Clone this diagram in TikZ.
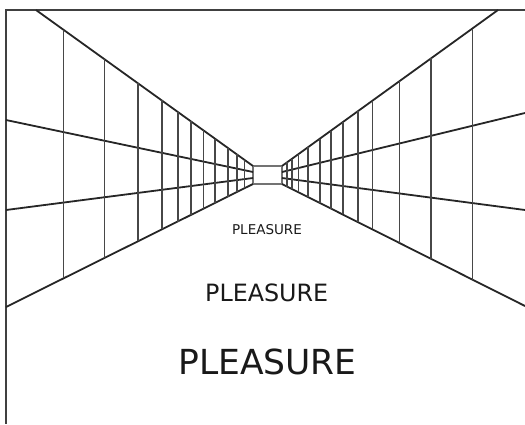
\documentclass[tikz,border=0pt]{standalone}
\usepackage{fontspec}
\setmainfont{DejaVu Sans}
\usetikzlibrary{calc}

\begin{document}
\begin{tikzpicture}[
  x=1pt, y=-1pt,
  frame/.style = {draw=black!75, line width=2pt},
  edge/.style  = {draw=black!85, line width=1.8pt},
  post/.style  = {draw=black!72, line width=1.6pt},
  word/.style  = {inner sep=0pt, text=black!90},
]
\useasboundingbox (0,0) rectangle (525,424);
% outer frame (top and left only)
\draw[frame] (525,10) -- (6,10) -- (6,424);
% far end of the hall
\coordinate (ftl) at (253,166);
\coordinate (ftr) at (282,166);
\coordinate (fbl) at (253,184);
\coordinate (fbr) at (282,184);
\draw[post, draw=black!55, line width=1.1pt] (ftl) rectangle (fbr);
% left wall
\coordinate (ltop) at (36,10);
\coordinate (lbot) at (6,307);
\draw[edge] (ltop) -- (ftl);
\draw[edge] (lbot) -- (fbl);
\coordinate (lmid1) at (6,120);
\coordinate (lmid2) at (6,210);
\draw[edge] (lmid1) -- (253,172);
\draw[edge] (lmid2) -- (253,178);
\foreach \x in {63.3,104.3,137.7,161.7,177.7,190.7,203.3,215,227.7,236.7,244.3} {
  \pgfmathsetmacro\ytop{10+(\x-36)/217*156}
  \pgfmathsetmacro\ybot{307-(\x-6)/247*123}
  \draw[post] (\x,\ytop) -- (\x,\ybot);
}
% right wall
\coordinate (rtop) at (498,10);
\coordinate (rbot) at (525,306);
\draw[edge] (rtop) -- (ftr);
\draw[edge] (rbot) -- (fbr);
\coordinate (rmid1) at (525,113);
\coordinate (rmid2) at (525,210);
\draw[edge] (rmid1) -- (282,172);
\draw[edge] (rmid2) -- (282,178);
\foreach \x in {472.3,431,399.3,372.3,357.7,342.7,331,320,307.7,298.3,291.7,287} {
  \pgfmathsetmacro\ytop{10+(498-\x)/216*156}
  \pgfmathsetmacro\ybot{184+(\x-282)/243*122}
  \draw[post] (\x,\ytop) -- (\x,\ybot);
}
% the three words on the floor
\node[word, font=\fontsize{13.5}{16}\selectfont] (far) at (267,229.5) {PLEASURE};
\node[word, font=\fontsize{23.8}{28}\selectfont] (mid) at (266.7,293) {PLEASURE};
\node[word, font=\fontsize{34.5}{40}\selectfont] (near) at (267.5,362) {PLEASURE};
\end{tikzpicture}
\end{document}
